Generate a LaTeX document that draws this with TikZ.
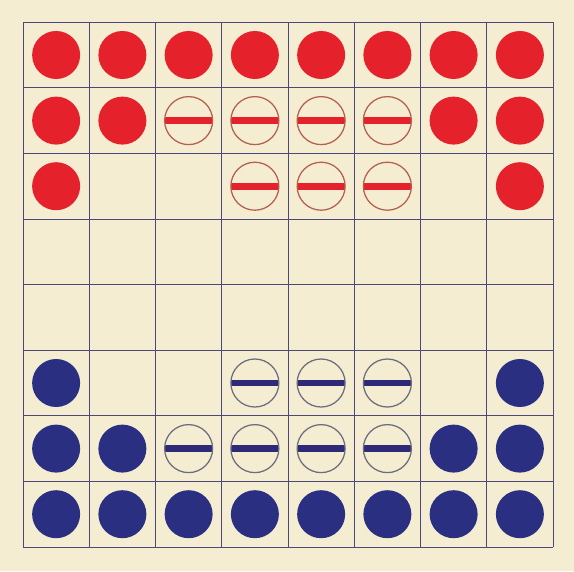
\documentclass[tikz,border=0pt]{standalone}
\usepackage{tikz}
\definecolor{board}{HTML}{F4EDD1}
\definecolor{lineink}{HTML}{4E4878}
\definecolor{redstone}{HTML}{E5212B}
\definecolor{redring}{HTML}{B5604E}
\definecolor{bluestone}{HTML}{2A2F82}
\definecolor{bluering}{HTML}{6E6C80}
\definecolor{bluebar}{HTML}{2F2A78}

\begin{document}
\begin{tikzpicture}[
  stone/.style={circle, minimum size=1.2cm, inner sep=0pt},
  redfull/.style={stone, fill=redstone},
  bluefull/.style={stone, fill=bluestone},
  redbar/.style={stone, draw=redring, line width=0.9pt, path picture={
      \draw[redstone, line width=0.17cm] (path picture bounding box.west) -- (path picture bounding box.east);}},
  bluebarred/.style={stone, draw=bluering, line width=0.9pt, path picture={
      \draw[bluebar, line width=0.16cm] (path picture bounding box.west) -- (path picture bounding box.east);}},
  gridline/.style={lineink, line width=0.6pt}
]

\fill[board] (0,0) rectangle (14.35,14.275);
\useasboundingbox (0,0) rectangle (14.35,14.275);

\begin{scope}[shift={(0.575,0.6)}, x=1.65625cm, y=1.64cm]
\draw[gridline] (0,0) grid[step={(1,1)}] (8,8);

% --- rouges --------------------------------------------------------------
\node[redfull] (r81) at (0.5,7.5) {};
\node[redfull] (r82) at (1.5,7.5) {};
\node[redfull] (r83) at (2.5,7.5) {};
\node[redfull] (r84) at (3.5,7.5) {};
\node[redfull] (r85) at (4.5,7.5) {};
\node[redfull] (r86) at (5.5,7.5) {};
\node[redfull] (r87) at (6.5,7.5) {};
\node[redfull] (r88) at (7.5,7.5) {};

\node[redfull] (r71) at (0.5,6.5) {};
\node[redfull] (r72) at (1.5,6.5) {};
\node[redbar]  (r73) at (2.5,6.5) {};
\node[redbar]  (r74) at (3.5,6.5) {};
\node[redbar]  (r75) at (4.5,6.5) {};
\node[redbar]  (r76) at (5.5,6.5) {};
\node[redfull] (r77) at (6.5,6.5) {};
\node[redfull] (r78) at (7.5,6.5) {};

\node[redfull] (r61) at (0.5,5.5) {};
\node[redbar]  (r64) at (3.5,5.5) {};
\node[redbar]  (r65) at (4.5,5.5) {};
\node[redbar]  (r66) at (5.5,5.5) {};
\node[redfull] (r68) at (7.5,5.5) {};

% --- bleus ---------------------------------------------------------------
\node[bluefull]   (b31) at (0.5,2.5) {};
\node[bluebarred] (b34) at (3.5,2.5) {};
\node[bluebarred] (b35) at (4.5,2.5) {};
\node[bluebarred] (b36) at (5.5,2.5) {};
\node[bluefull]   (b38) at (7.5,2.5) {};

\node[bluefull]   (b21) at (0.5,1.5) {};
\node[bluefull]   (b22) at (1.5,1.5) {};
\node[bluebarred] (b23) at (2.5,1.5) {};
\node[bluebarred] (b24) at (3.5,1.5) {};
\node[bluebarred] (b25) at (4.5,1.5) {};
\node[bluebarred] (b26) at (5.5,1.5) {};
\node[bluefull]   (b27) at (6.5,1.5) {};
\node[bluefull]   (b28) at (7.5,1.5) {};

\node[bluefull] (b11) at (0.5,0.5) {};
\node[bluefull] (b12) at (1.5,0.5) {};
\node[bluefull] (b13) at (2.5,0.5) {};
\node[bluefull] (b14) at (3.5,0.5) {};
\node[bluefull] (b15) at (4.5,0.5) {};
\node[bluefull] (b16) at (5.5,0.5) {};
\node[bluefull] (b17) at (6.5,0.5) {};
\node[bluefull] (b18) at (7.5,0.5) {};
\end{scope}

\end{tikzpicture}
\end{document}
